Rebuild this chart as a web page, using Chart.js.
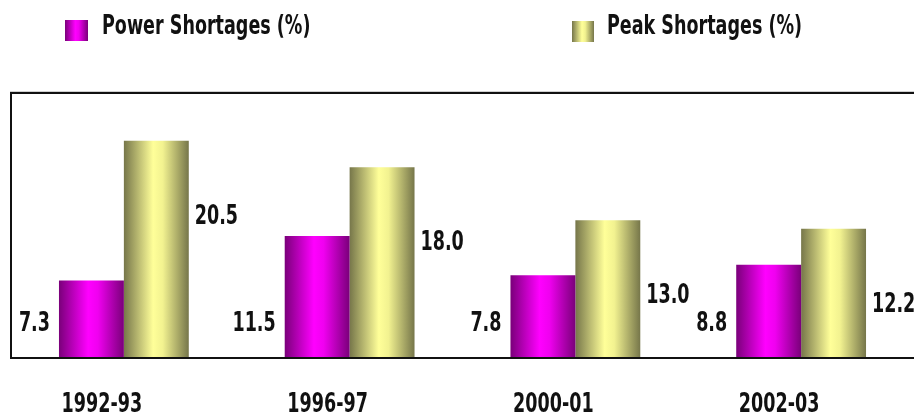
<!DOCTYPE html>
<html>
<head>
<meta charset="utf-8">
<script src="https://cdn.jsdelivr.net/npm/chart.js@4/dist/chart.umd.min.js"></script>
<style>
  html, body { margin: 0; padding: 0; background: #fff; }
  #wrap { width: 914px; height: 412px; }
</style>
</head>
<body>
<div id="wrap"><canvas id="shortChart" width="914" height="412"></canvas></div>
<script>
  'use strict'

  // data
  var categories = ['1992-93', '1996-97', '2000-01', '2002-03'];
  var powerShortages = [7.3, 11.5, 7.8, 8.8];
  var peakShortages = [20.5, 18.0, 13.0, 12.2];
  var seriesNames = ['Power Shortages (%)', 'Peak Shortages (%)'];

  var FONT = 'bold 26px "Liberation Sans Narrow", "DejaVu Sans Condensed", sans-serif';
  var SQUEEZE = 0.75; // narrow look of the original font
  var CAT_PCT = 0.575;

  var purpleStops = [[0, '#7a007a'], [0.45, '#ff00ff'], [0.6, '#f000f0'], [1, '#7a007a']];
  var yellowStops = [[0, '#76764a'], [0.45, '#ffff99'], [0.6, '#f2f290'], [1, '#76764a']];

  function makeGradient(c, left, width, stops) {
    var g = c.createLinearGradient(left, 0, left + width, 0);
    stops.forEach(function(s) { g.addColorStop(s[0], s[1]); });
    return g;
  }

  // text squeezed horizontally, same height
  function narrowText(c, text, x, y, align, baseline) {
    c.save();
    c.font = FONT;
    c.fillStyle = '#111';
    c.textAlign = align;
    c.textBaseline = baseline;
    c.translate(x, y);
    c.scale(SQUEEZE, 1);
    c.fillText(text, 0, 0);
    c.restore();
  }

  // cylinder shading across each bar
  function barFill(stops) {
    return function(context) {
      var chart = context.chart;
      var xs = chart.scales.x;
      if (!xs || context.type !== 'data') return stops[1][1];
      var catW = (xs.right - xs.left) / categories.length;
      var w = catW * CAT_PCT / 2;
      var center = xs.getPixelForValue(context.dataIndex);
      var left = center - w + context.datasetIndex * w;
      if (!isFinite(left) || !isFinite(w) || w <= 0) return stops[1][1];
      return makeGradient(chart.ctx, left, w, stops);
    };
  }

  var framePlugin = {
    id: 'frame',
    afterDatasetsDraw: function(chart) {
      var c = chart.ctx, a = chart.chartArea;
      c.save();
      c.strokeStyle = '#d0d0d0';
      c.lineWidth = 1;
      c.beginPath();
      c.moveTo(a.left - 1, 91.5);
      c.lineTo(chart.width, 91.5);
      c.stroke();
      c.strokeStyle = '#111';
      c.lineWidth = 2;
      c.beginPath();
      c.moveTo(chart.width, a.top);
      c.lineTo(a.left, a.top);
      c.lineTo(a.left, a.bottom);
      c.lineTo(chart.width, a.bottom);
      c.stroke();
      c.restore();
    }
  };

  var valueLabels = {
    id: 'valueLabels',
    afterDatasetsDraw: function(chart) {
      var ys = chart.scales.y, xs = chart.scales.x, c = chart.ctx;
      chart.data.datasets.forEach(function(ds, di) {
        chart.getDatasetMeta(di).data.forEach(function(bar, i) {
          var v = ds.data[i];
          if (di === 0) {
            narrowText(c, v.toFixed(1), bar.x - bar.width / 2 - 9, ys.getPixelForValue(3.2), 'right', 'middle');
          } else {
            narrowText(c, v.toFixed(1), bar.x + bar.width / 2 + 6, ys.getPixelForValue(v - 7.2), 'left', 'middle');
          }
        });
      });
      // category names under the frame, shifted left like the original
      categories.forEach(function(cat, i) {
        narrowText(c, cat, xs.getPixelForValue(i) - 22, 412, 'center', 'alphabetic');
      });
    }
  };

  var topLegend = {
    id: 'topLegend',
    afterDraw: function(chart) {
      var c = chart.ctx;
      var items = [
        {box: [65, 20, 23, 21], tx: 102, stops: purpleStops},
        {box: [572, 21, 22, 21], tx: 607, stops: yellowStops}
      ];
      items.forEach(function(it, i) {
        var b = it.box;
        c.save();
        c.fillStyle = makeGradient(c, b[0], b[2], it.stops);
        c.fillRect(b[0], b[1], b[2], b[3]);
        c.restore();
        narrowText(c, chart.data.datasets[i].label, it.tx, 34, 'left', 'alphabetic');
      });
    }
  };

  var ctx = document.getElementById('shortChart');
  var myChart = new Chart(ctx, {
    type: 'bar',
    data: {
      labels: categories,
      datasets: [{
        label: seriesNames[0],
        data: powerShortages,
        backgroundColor: barFill(purpleStops),
        borderWidth: 0
      }, {
        label: seriesNames[1],
        data: peakShortages,
        backgroundColor: barFill(yellowStops),
        borderWidth: 0
      }]
    },
    options: {
      responsive: false,
      devicePixelRatio: 1,
      animation: false,
      layout: {
        padding: { top: 93, left: 11, right: -1, bottom: 54 }
      },
      datasets: {
        bar: { categoryPercentage: CAT_PCT, barPercentage: 1.0 }
      },
      plugins: {
        legend: { display: false },
        tooltip: { enabled: false }
      },
      scales: {
        x: {
          display: false
        },
        y: {
          display: false,
          min: 0,
          max: 25
        }
      }
    },
    plugins: [framePlugin, valueLabels, topLegend]
  });
</script>
</body>
</html>
